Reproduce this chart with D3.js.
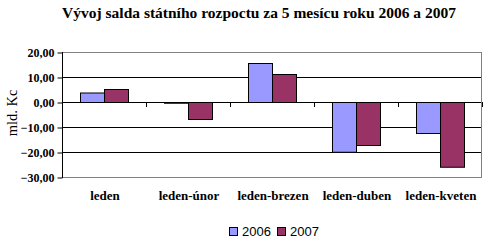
<!DOCTYPE html>
<html>
<head>
<meta charset="utf-8">
<script src="https://cdn.jsdelivr.net/npm/d3@7"></script>
<style>
  body { margin: 0; background: #fff; }
  svg { display: block; }
</style>
</head>
<body>
<svg id="chart" width="487" height="240"></svg>
<script>
// data
var categories = ['leden', 'leden-únor', 'leden-brezen', 'leden-duben', 'leden-kveten'];
var series = ['2006', '2007'];
var values2006 = [3.8, -0.3, 15.6, -19.9, -12.4];
var values2007 = [5.2, -6.8, 11.2, -17.2, -25.9];
var yTicks = [20, 10, 0, -10, -20, -30];
var colors = ['#9999ff', '#993366'];

var svg = d3.select('#chart'),
  plotLeft = 62, plotRight = 482, plotTop = 52, plotBottom = 177,
  serif = '"Liberation Serif", "Times New Roman", serif';

var x = d3.scaleBand().domain(categories).range([plotLeft, plotRight]);
var y = d3.scaleLinear().domain([-30, 20]).range([plotBottom, plotTop]);
var barW = x.bandwidth() / 3.5; // bar width, gap width 150%

// gridlines
svg.append('g').selectAll('line').data(yTicks).enter().append('line')
  .attr('x1', plotLeft).attr('x2', plotRight)
  .attr('y1', function (d) { return y(d) + 0.5; })
  .attr('y2', function (d) { return y(d) + 0.5; })
  .attr('stroke', function (d) { return (d == 20 || d == -30) ? '#808080' : '#000'; })
  .attr('stroke-width', 1);

// right border of plot area
svg.append('line')
  .attr('x1', plotRight - 0.5).attr('x2', plotRight - 0.5)
  .attr('y1', plotTop).attr('y2', plotBottom + 1)
  .attr('stroke', '#808080');

// bars
var rows = categories.map(function (c, i) { return [values2006[i], values2007[i]]; });
var groups = svg.append('g').selectAll('g').data(rows).enter().append('g')
  .attr('transform', function (d, i) { return 'translate(' + (x(categories[i]) + barW * 0.75) + ',0)'; });
groups.selectAll('rect').data(function (d) { return d; }).enter().append('rect')
  .attr('x', function (d, j) { return j * barW + 0.5; })
  .attr('width', barW)
  .attr('y', function (d) { return Math.min(y(d), y(0)) + 0.5; })
  .attr('height', function (d) { return Math.max(Math.abs(y(d) - y(0)), 0.5); })
  .attr('fill', function (d, j) { return colors[j]; })
  .attr('stroke', '#000').attr('stroke-width', 1);

// y axis
var yAxis = svg.append('g').attr('transform', 'translate(' + (plotLeft + 0.5) + ',0.5)')
  .call(d3.axisLeft(y).tickValues(yTicks).tickSize(5).tickPadding(3)
    .tickFormat(function (d) { return d3.format('.2f')(d).replace('.', ','); }));
yAxis.select('.domain').attr('d', 'M0,' + (plotTop - 0.5) + 'V' + (plotBottom + 0.5));
yAxis.selectAll('text').attr('font-family', serif).attr('font-size', 12)
  .attr('font-weight', 'bold').attr('fill', '#000');

// category ticks on zero line
svg.append('g').selectAll('line').data(d3.range(categories.length + 1)).enter().append('line')
  .attr('x1', function (i) { return plotLeft + i * x.step() + 0.5; })
  .attr('x2', function (i) { return plotLeft + i * x.step() + 0.5; })
  .attr('y1', y(0)).attr('y2', y(0) + 5)
  .attr('stroke', '#000');

// category labels
svg.append('g').selectAll('text').data(categories).enter().append('text')
  .attr('x', function (d) { return x(d) + x.bandwidth() / 2 + 1; })
  .attr('y', 200)
  .attr('text-anchor', 'middle')
  .attr('font-family', serif).attr('font-size', 13).attr('font-weight', 'bold')
  .text(function (d) { return d; });

// title
svg.append('text').attr('x', 259).attr('y', 18).attr('text-anchor', 'middle')
  .attr('font-family', serif).attr('font-size', 15.5).attr('font-weight', 'bold')
  .text('Vývoj salda státního rozpoctu za 5 mesícu roku 2006 a 2007');

// y label
svg.append('text').attr('transform', 'translate(17,113) rotate(-90)')
  .attr('text-anchor', 'middle')
  .attr('font-family', serif).attr('font-size', 14.5)
  .text('mld. Kc');

// legend
var legend = svg.append('g').selectAll('g').data(series).enter().append('g')
  .attr('transform', function (d, i) { return 'translate(' + (229 + i * 48) + ',227)'; });
legend.append('rect').attr('x', 0.5).attr('y', 0.5).attr('width', 8).attr('height', 8)
  .attr('fill', function (d, i) { return colors[i]; }).attr('stroke', '#000');
legend.append('text').attr('x', 13).attr('y', 9)
  .attr('font-family', '"Liberation Sans", Arial, sans-serif').attr('font-size', 13)
  .text(function (d) { return d; });
</script>
</body>
</html>
